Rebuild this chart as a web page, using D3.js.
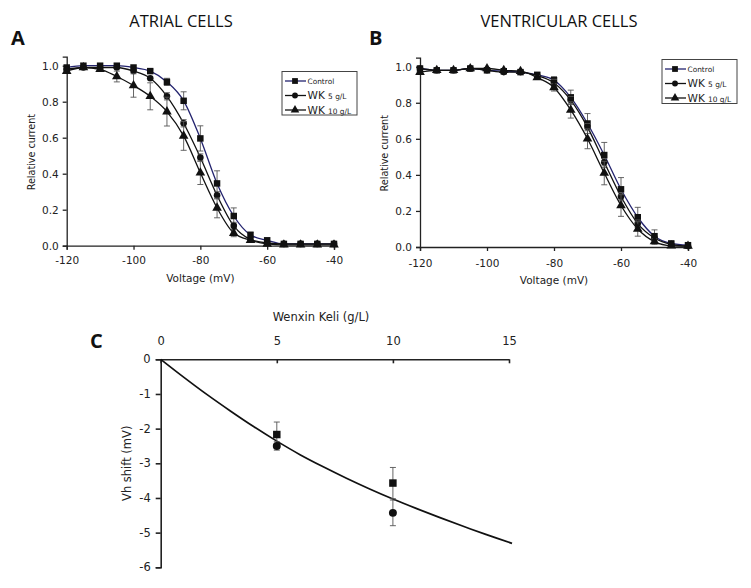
<!DOCTYPE html>
<html>
<head>
<meta charset="utf-8">
<script src="https://cdn.jsdelivr.net/npm/d3@7"></script>
<style>
  html, body { margin: 0; padding: 0; background: #fff; }
  svg { display: block; }
  .tick text { font-family: "DejaVu Sans", sans-serif; fill: #222; }
</style>
</head>
<body>
<svg id="chart" width="751" height="588"></svg>
<script>
// ---------- DATA ----------
const voltages = [-120,-115,-110,-105,-100,-95,-90,-85,-80,-75,-70,-65,-60,-55,-50,-45,-40];
const seriesNames = ["Control", "WK", "WK"];
const seriesUnits = ["", "5 g/L", "10 g/L"];

const atrialControl = [0.99,1.0,1.0,1.0,0.99,0.97,0.91,0.805,0.596,0.346,0.165,0.06,0.03,0.01,0.01,0.01,0.01];
const atrialWK5     = [0.98,0.99,0.99,0.99,0.97,0.93,0.83,0.68,0.49,0.28,0.11,0.035,0.015,0.01,0.01,0.01,0.01];
const atrialWK10    = [0.97,0.99,0.98,0.94,0.89,0.83,0.745,0.61,0.405,0.21,0.07,0.03,0.01,0.005,0.005,0.005,0.005];
const atrialControlErr = [0,0,0,0,0,0.01,0.02,0.05,0.07,0.07,0.045,0.015,0,0,0,0,0];
const atrialWK5Err     = [0,0,0,0,0,0,0.02,0.02,0.02,0.02,0.02,0,0,0,0,0,0];
const atrialWK10Err    = [0,0,0,0.03,0.065,0.075,0.08,0.08,0.065,0.055,0.02,0,0,0,0,0,0];

const ventControl = [0.99,0.98,0.98,0.99,0.98,0.975,0.97,0.955,0.925,0.83,0.685,0.51,0.32,0.165,0.06,0.02,0.01];
const ventWK5     = [0.99,0.98,0.98,0.99,0.98,0.97,0.97,0.95,0.91,0.815,0.665,0.47,0.28,0.13,0.05,0.015,0.005];
const ventWK10    = [0.97,0.98,0.98,0.99,0.99,0.98,0.975,0.94,0.885,0.76,0.60,0.41,0.23,0.10,0.03,0.007,0.005];
const ventControlErr = [0,0,0,0,0,0,0,0.01,0.02,0.04,0.055,0.07,0.065,0.055,0.035,0.01,0];
const ventWK5Err     = [0,0,0,0,0,0,0,0,0.02,0.02,0.02,0.02,0.02,0.02,0,0,0];
const ventWK10Err    = [0,0,0,0,0,0,0,0.01,0.02,0.045,0.055,0.065,0.06,0.04,0.015,0,0];

const relTicks = [0,0.2,0.4,0.6,0.8,1.0];
const voltTicks = [-120,-100,-80,-60,-40];

// Panel C
const wkDoses = [5, 10];
const shiftSquares = [-2.17, -3.57];
const shiftSquaresErr = [0.36, 0.45];
const shiftCircles = [-2.5, -4.43];
const shiftCirclesErr = [0.12, 0.37];
const fitDose  = [0,1,2,3,4,5,6,7,8,9,10,11,12,13,14,15.13];
const fitShift = [0,-0.52,-1.02,-1.49,-1.94,-2.36,-2.75,-3.1,-3.43,-3.74,-4.03,-4.3,-4.56,-4.81,-5.05,-5.31];
const doseTicks = [0,5,10,15];
const shiftTicks = [0,-1,-2,-3,-4,-5,-6];

// ---------- DRAW ----------
const svg = d3.select("#chart");
const symTypes = [d3.symbolSquare, d3.symbolCircle, d3.symbolTriangle];
const symSizes = [42, 34, 40];
const lineColors = ["#23236e", "#111", "#111"];
const hyphenInt = d => String(d);
const hyphenFix1 = d => d.toFixed(1);

function drawPanel(o) {
  const x = d3.scaleLinear().domain([-120, -40]).range([o.x0, o.x1]);
  const y = d3.scaleLinear().domain([0, 1.05]).range([o.y0, o.y0 - 1.05 * o.unit]);
  const g = svg.append("g");

  const xa = g.append("g").attr("transform", `translate(0,${o.y0})`)
    .call(d3.axisBottom(x).tickValues(voltTicks).tickFormat(hyphenInt).tickSizeOuter(0).tickSize(4).tickPadding(o.xpad));
  const ya = g.append("g").attr("transform", `translate(${o.x0},0)`)
    .call(d3.axisLeft(y).tickValues(relTicks).tickFormat(hyphenFix1).tickSizeOuter(0).tickSize(4).tickPadding(4));
  [xa, ya].forEach(a => {
    a.selectAll("path,line").attr("stroke", "#222").attr("stroke-width", 1.3);
    a.selectAll("text").attr("font-size", 10.5);
  });

  o.series.forEach((s, i) => {
    const pts = voltages.map((v, k) => ({v, r: s.vals[k], e: s.err[k]}));
    g.append("path").datum(pts)
      .attr("fill", "none").attr("stroke", lineColors[i]).attr("stroke-width", 1.3)
      .attr("d", d3.line().x(d => x(d.v)).y(d => y(d.r)).curve(d3.curveMonotoneX));
    const eb = g.append("g").attr("stroke", "#555").attr("stroke-width", 0.9);
    pts.filter(d => d.e > 0).forEach(d => {
      const cx = x(d.v);
      eb.append("line").attr("x1", cx).attr("x2", cx).attr("y1", y(d.r + d.e)).attr("y2", y(d.r - d.e));
      eb.append("line").attr("x1", cx - 3).attr("x2", cx + 3).attr("y1", y(d.r + d.e)).attr("y2", y(d.r + d.e));
      eb.append("line").attr("x1", cx - 3).attr("x2", cx + 3).attr("y1", y(d.r - d.e)).attr("y2", y(d.r - d.e));
    });
    g.append("g").selectAll("path").data(pts).join("path")
      .attr("transform", d => `translate(${x(d.v)},${y(d.r)})`)
      .attr("d", d3.symbol().type(symTypes[i]).size(symSizes[i]))
      .attr("fill", "#111");
  });

  g.append("text").attr("x", (o.x0 + o.x1) / 2).attr("y", o.xlabY)
    .attr("text-anchor", "middle").attr("font-family", "DejaVu Sans").attr("font-size", 10.5).attr("fill", "#222")
    .text("Voltage (mV)");
  g.append("text").attr("transform", `translate(${o.ylabX},${o.y0 - 0.52 * o.unit}) rotate(-90)`)
    .attr("text-anchor", "middle").attr("font-family", "DejaVu Sans").attr("font-size", 9.6).attr("fill", "#222")
    .text("Relative current");
  g.append("text").attr("x", o.titleX).attr("y", 27).attr("text-anchor", "middle")
    .attr("font-family", "Open Sans").attr("font-size", o.titleSize).attr("fill", "#111").text(o.title);
  g.append("text").attr("x", o.letterX).attr("y", 45).attr("font-family", "Open Sans").attr("font-weight", "bold")
    .attr("font-size", 20).attr("fill", "#111").text(o.letter);

  const L = o.legend;
  g.append("rect").attr("x", L.x).attr("y", L.y).attr("width", L.w).attr("height", L.h)
    .attr("fill", "#fff").attr("stroke", "#444").attr("stroke-width", 1);
  seriesNames.forEach((nm, i) => {
    const ly = L.y + 9.5 + i * 14.5;
    g.append("line").attr("x1", L.x + 3).attr("x2", L.x + 24).attr("y1", ly).attr("y2", ly)
      .attr("stroke", lineColors[i]).attr("stroke-width", 1.3);
    g.append("path").attr("transform", `translate(${L.x + 13},${ly})`)
      .attr("d", d3.symbol().type(symTypes[i]).size(symSizes[i] * 0.8)).attr("fill", "#111");
    const t = g.append("text").attr("x", L.x + 25.5).attr("y", ly + (i === 0 ? 2.5 : 3.5))
      .attr("font-family", "DejaVu Sans").attr("fill", "#222");
    if (i === 0) {
      t.attr("font-size", 7.4).text(nm);
    } else {
      t.append("tspan").attr("font-size", 10.5).text(nm + " ");
      t.append("tspan").attr("font-size", 7.4).text(seriesUnits[i]);
    }
  });
}

drawPanel({
  x0: 66.7, x1: 334, y0: 245.7, unit: 180, xpad: 7, xlabY: 282, ylabX: 35,
  title: "ATRIAL CELLS", titleX: 181, titleSize: 16.5, letter: "A", letterX: 11,
  legend: {x: 282, y: 71.5, w: 75, h: 43.5},
  series: [
    {vals: atrialControl, err: atrialControlErr},
    {vals: atrialWK5, err: atrialWK5Err},
    {vals: atrialWK10, err: atrialWK10Err}
  ]
});
drawPanel({
  x0: 420, x1: 688, y0: 247, unit: 180.3, xpad: 9, xlabY: 284, ylabX: 388,
  title: "VENTRICULAR CELLS", titleX: 559, titleSize: 16.5, letter: "B", letterX: 369,
  legend: {x: 662, y: 59.5, w: 75, h: 44},
  series: [
    {vals: ventControl, err: ventControlErr},
    {vals: ventWK5, err: ventWK5Err},
    {vals: ventWK10, err: ventWK10Err}
  ]
});

// ---------- Panel C ----------
(function () {
  const x = d3.scaleLinear().domain([0, 15]).range([160.7, 509]);
  const y = d3.scaleLinear().domain([0, -6]).range([359.3, 567.3]);
  const g = svg.append("g");
  const xa = g.append("g").attr("transform", `translate(0,${y(0)})`)
    .call(d3.axisTop(x).tickValues(doseTicks).tickFormat(hyphenInt).tickSizeOuter(0).tickSizeInner(-4).tickPadding(14));
  const ya = g.append("g").attr("transform", `translate(${x(0)},0)`)
    .call(d3.axisLeft(y).tickValues(shiftTicks).tickFormat(hyphenInt).tickSizeOuter(0).tickSize(5).tickPadding(5));
  [xa, ya].forEach(a => {
    a.selectAll("path,line").attr("stroke", "#222").attr("stroke-width", 1.6);
    a.selectAll("text").attr("font-size", 11.5);
  });

  const fit = fitDose.map((d, i) => ({d, s: fitShift[i]}));
  g.append("path").datum(fit).attr("fill", "none").attr("stroke", "#111").attr("stroke-width", 1.7)
    .attr("d", d3.line().x(p => x(p.d)).y(p => y(p.s)).curve(d3.curveCatmullRom));

  const groups = [
    {vals: shiftSquares, err: shiftSquaresErr, type: d3.symbolSquare, size: 56},
    {vals: shiftCircles, err: shiftCirclesErr, type: d3.symbolCircle, size: 50}
  ];
  groups.forEach(gr => {
    const pts = wkDoses.map((d, i) => ({d, s: gr.vals[i], e: gr.err[i]}));
    const eb = g.append("g").attr("stroke", "#555").attr("stroke-width", 0.9);
    pts.forEach(p => {
      const cx = x(p.d);
      eb.append("line").attr("x1", cx).attr("x2", cx).attr("y1", y(p.s + p.e)).attr("y2", y(p.s - p.e));
      eb.append("line").attr("x1", cx - 3).attr("x2", cx + 3).attr("y1", y(p.s + p.e)).attr("y2", y(p.s + p.e));
      eb.append("line").attr("x1", cx - 3).attr("x2", cx + 3).attr("y1", y(p.s - p.e)).attr("y2", y(p.s - p.e));
    });
    g.append("g").selectAll("path").data(pts).join("path")
      .attr("transform", p => `translate(${x(p.d)},${y(p.s)})`)
      .attr("d", d3.symbol().type(gr.type).size(gr.size)).attr("fill", "#111");
  });

  g.append("text").attr("x", 321).attr("y", 321).attr("text-anchor", "middle")
    .attr("font-family", "DejaVu Sans").attr("font-size", 11.5).attr("fill", "#222").text("Wenxin Keli (g/L)");
  g.append("text").attr("transform", `translate(131,${y(-3)}) rotate(-90)`).attr("text-anchor", "middle")
    .attr("font-family", "DejaVu Sans").attr("font-size", 11.5).attr("fill", "#222").text("Vh shift (mV)");
  g.append("text").attr("x", 90).attr("y", 348).attr("font-family", "Open Sans").attr("font-weight", "bold")
    .attr("font-size", 20).attr("fill", "#111").text("C");
})();
</script>
</body>
</html>
